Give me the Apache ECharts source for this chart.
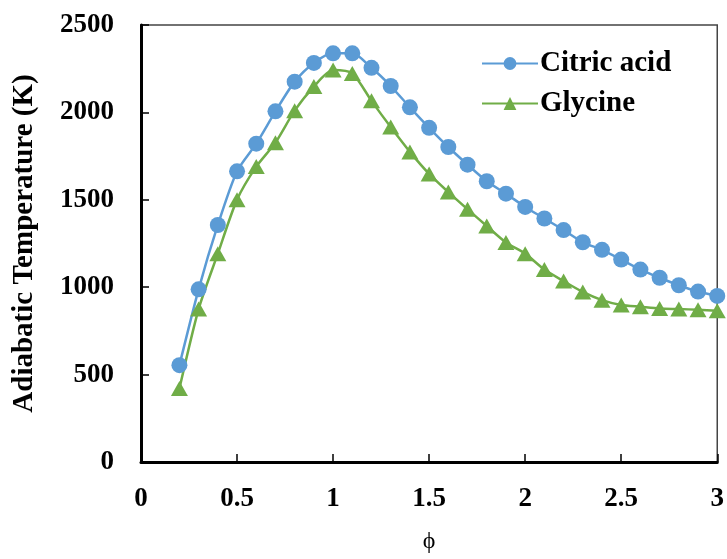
<!DOCTYPE html>
<html>
<head>
<meta charset="utf-8">
<script src="https://cdn.jsdelivr.net/npm/echarts@6/dist/echarts.min.js"></script>
<style>html,body{margin:0;padding:0;background:#fff}#c{width:727px;height:559px}</style>
</head>
<body>
<div id="c"></div>
<script>
const phi = [0.2,0.3,0.4,0.5,0.6,0.7,0.8,0.9,1.0,1.1,1.2,1.3,1.4,1.5,1.6,1.7,1.8,1.9,2.0,2.1,2.2,2.3,2.4,2.5,2.6,2.7,2.8,2.9,3.0];
const citricAcid = [554,988,1356,1663,1821,2006,2176,2283,2338,2338,2255,2151,2029,1912,1802,1701,1606,1535,1459,1393,1327,1257,1214,1158,1101,1054,1011,975,950];
const glycine = [420,875,1192,1501,1690,1827,2010,2148,2242,2223,2066,1916,1774,1648,1544,1446,1350,1256,1192,1101,1035,973,926,898,888,878,875,871,865];
const seriesNames = ['Citric acid','Glycine'];

const font = '"Liberation Serif","Times New Roman",serif';
const chart = echarts.init(document.getElementById('c'));
chart.setOption({
  animation:false,
  grid:{left:141,right:8,top:25,bottom:91,show:true,borderColor:'#444',borderWidth:1.5,backgroundColor:'transparent'},
  legend:{
    left:481,top:49,padding:0,orient:'vertical',itemGap:11,itemWidth:56,itemHeight:16,
    textStyle:{fontFamily:font,fontWeight:'bold',fontSize:29,color:'#000',padding:[0,0,0,-3]},
    data:seriesNames.map(n=>({name:n}))
  },
  xAxis:{
    type:'value',min:0,max:3,interval:0.5,
    name:'ϕ',nameLocation:'middle',nameGap:68,
    nameTextStyle:{fontFamily:font,fontSize:24,color:'#000'},
    axisLine:{show:true,onZero:false,lineStyle:{color:'#000',width:3}},
    axisTick:{show:true,inside:true,length:8,lineStyle:{color:'#000',width:1.5}},
    axisLabel:{margin:24,fontFamily:font,fontWeight:'bold',fontSize:27,color:'#000',
      formatter:v=>String(v)},
    splitLine:{show:false}
  },
  yAxis:{
    type:'value',min:0,max:2500,interval:500,
    name:'Adiabatic Temperature (K)',nameLocation:'middle',nameGap:102,
    nameTextStyle:{fontFamily:font,fontWeight:'bold',fontSize:29,color:'#000'},
    axisLine:{show:true,onZero:false,lineStyle:{color:'#000',width:3}},
    axisTick:{show:true,inside:true,length:8,lineStyle:{color:'#000',width:1.5}},
    axisLabel:{margin:27,fontFamily:font,fontWeight:'bold',fontSize:27,color:'#000',
      formatter:v=>String(v)},
    splitLine:{show:false}
  },
  series:[
    {name:seriesNames[0],type:'line',smooth:0.25,symbol:'circle',symbolSize:16,
     data:phi.map((x,i)=>[x,citricAcid[i]]),
     lineStyle:{color:'#5b9bd5',width:2.5},itemStyle:{color:'#5b9bd5'},color:'#5b9bd5',clip:false},
    {name:seriesNames[1],type:'line',smooth:0.25,symbol:'triangle',symbolSize:[17,15],
     data:phi.map((x,i)=>[x,glycine[i]]),
     lineStyle:{color:'#70ad47',width:2.5},itemStyle:{color:'#70ad47'},color:'#70ad47',clip:false}
  ]
});
</script>
</body>
</html>
